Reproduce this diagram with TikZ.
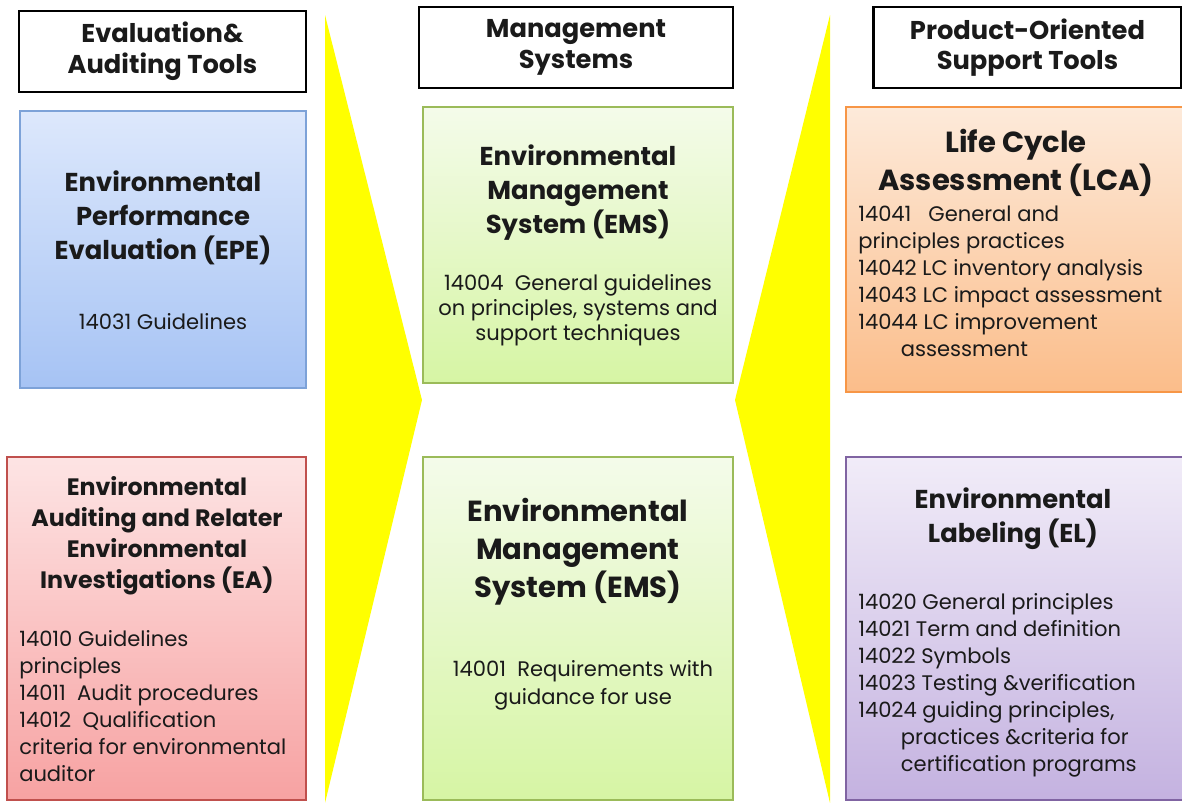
\documentclass[tikz,border=0pt]{standalone}
\usepackage{fontspec}
\setmainfont{Poppins}
\usetikzlibrary{shadows}
\definecolor{txt}{HTML}{1A1A1A}
\definecolor{bluetop}{HTML}{DDE8FC}
\definecolor{bluebot}{HTML}{A6C3F4}
\definecolor{blueline}{HTML}{7DA2D8}
\definecolor{redtop}{HTML}{FDE4E4}
\definecolor{redbot}{HTML}{F7A2A2}
\definecolor{redline}{HTML}{C0504D}
\definecolor{greentop}{HTML}{F4FBEA}
\definecolor{greenbot}{HTML}{D6F5A4}
\definecolor{greenline}{HTML}{9BBB59}
\definecolor{orangetop}{HTML}{FDEADA}
\definecolor{orangebot}{HTML}{FBBD8A}
\definecolor{orangeline}{HTML}{F79646}
\definecolor{purpletop}{HTML}{F1ECF8}
\definecolor{purplebot}{HTML}{C4B2E0}
\definecolor{purpleline}{HTML}{8064A2}
\definecolor{arrowfill}{HTML}{FFFF00}

\begin{document}
\begin{tikzpicture}[x=0.75pt, y=-0.75pt,
  head/.style={draw=black, line width=1.6pt, fill=white, inner sep=0pt,
    minimum height=60.75pt, align=center, text=txt,
    font=\bfseries\fontsize{19.3}{23}\selectfont},
  panel/.style={draw=#1line, line width=0.8pt, top color=#1top, bottom color=#1bot,
    inner sep=0pt, drop shadow={opacity=0.2, shadow xshift=1pt, shadow yshift=-1pt}},
  title/.style={align=center, text=txt, inner sep=0pt, font=\bfseries\fontsize{19.4}{25.5}\selectfont},
  bigtitle/.style={align=center, text=txt, inner sep=0pt, font=\bfseries\fontsize{21.8}{28.5}\selectfont},
  body/.style={align=#1, text=txt, inner sep=0pt, font=\fontsize{15.8}{20.25}\selectfont},
  body/.default=center]
\useasboundingbox (0,0) rectangle (1182,803);

\fill[arrowfill] (325,15) -- (422,400) -- (325,803) -- cycle;
\fill[arrowfill] (830,15) -- (735,400) -- (830,803) -- cycle;

\node[head, minimum width=215.25pt] (H1) at (162.5,51.5) {Evaluation\&\\Auditing Tools};
\node[head, minimum width=235.5pt] (H2) at (576,47.5) {Management\\Systems};
\node[head, minimum width=231pt] (H3) at (1027.5,47.5) {Product-Oriented\\Support Tools};

\node[panel=blue, minimum width=214.5pt, minimum height=207.75pt] (EPE) at (163,249.5) {};
\node[panel=red, minimum width=224.25pt, minimum height=257.25pt] (EA) at (156.5,628.5) {};
\node[panel=green, minimum width=232.5pt, minimum height=207pt] (EMS1) at (578,245) {};
\node[panel=green, minimum width=232.5pt, minimum height=257.25pt] (EMS2) at (578,628.5) {};
\node[panel=orange, minimum width=255pt, minimum height=213.75pt] (LCA) at (1016,249.5) {};
\node[panel=purple, minimum width=255pt, minimum height=257.25pt] (EL) at (1016,628.5) {};

\node[title] (EPEt) at (163,218) {Environmental\\Performance\\Evaluation (EPE)};
\node[body] (EPEb) at (163,322) {14031 Guidelines};

\node[title, font=\bfseries\fontsize{17.8}{23.25}\selectfont] (EAt) at (157,536)
  {Environmental\\Auditing and Relater\\Environmental\\Investigations (EA)};
\node[body=left, anchor=north west] (EAb) at (19,630)
  {14010 Guidelines\\principles\\14011\ \ Audit procedures\\14012\ \ Qualification\\criteria for environmental\\auditor};

\node[title] (EMS1t) at (578,193) {Environmental\\Management\\System (EMS)};
\node[body, font=\fontsize{15.8}{18.75}\selectfont] (EMS1b) at (578,310)
  {14004\ \ General guidelines\\on principles, systems and\\support techniques};

\node[bigtitle] (EMS2t) at (578,552) {Environmental\\Management\\System (EMS)};
\node[body, font=\fontsize{15.8}{21}\selectfont] (EMS2b) at (583,685)
  {14001\ \ Requirements with\\guidance for use};

\node[bigtitle] (LCAt) at (1016,163) {Life Cycle\\Assessment (LCA)};
\node[body=left, anchor=north west] (LCAb) at (858,206)
  {14041\ \ \ General and\\principles practices\\14042 LC inventory analysis\\14043 LC impact assessment\\14044 LC improvement\\\hspace*{32pt}assessment};

\node[title] (ELt) at (1013,519) {Environmental\\Labeling (EL)};
\node[body=left, anchor=north west] (ELb) at (858,593)
  {14020 General principles\\14021 Term and definition\\14022 Symbols\\14023 Testing \&verification\\14024 guiding principles,\\\hspace*{32pt}practices \&criteria for\\\hspace*{32pt}certification programs};
\end{tikzpicture}
\end{document}
